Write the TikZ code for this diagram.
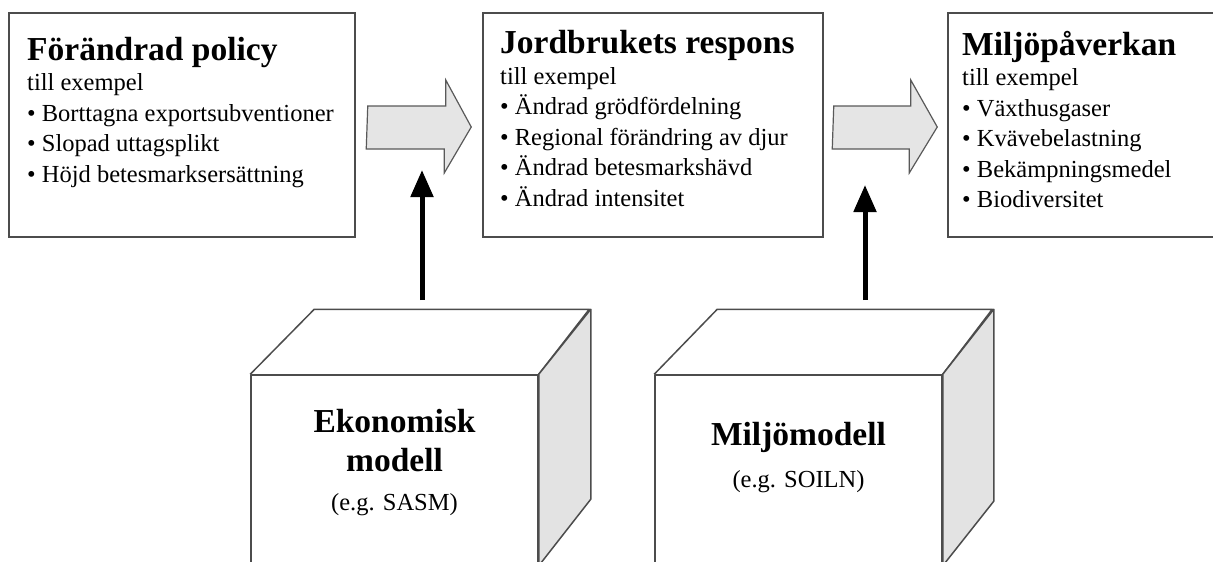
\documentclass[tikz,border=0pt]{standalone}
\usepackage{fontspec}
\setmainfont{Liberation Serif}
\usetikzlibrary{positioning,arrows.meta}

\tikzset{
  panel/.style={draw=black!70, line width=1.5pt, inner sep=0pt},
  paneltext/.style={anchor=north west, align=left, inner sep=0pt, font=\fontsize{24.5}{30.5}\selectfont},
  modeltext/.style={anchor=north, align=center, inner sep=0pt},
  bigarrow/.style={draw=black!65, line width=1.2pt, fill=black!10, line join=miter},
  upflow/.style={line width=5pt, -{Triangle[width=22pt,length=27pt]}},
  cubeline/.style={draw=black!70, line width=1.5pt, line join=round},
}
\newcommand{\headline}[1]{{\fontsize{33.5}{30.5}\selectfont\bfseries #1}}

\begin{document}
\begin{tikzpicture}[x=1pt, y=-1pt]
\useasboundingbox (0,0) rectangle (1213,562);
\clip (0,0) rectangle (1213,562);

% ---- the three panels
\node[panel, minimum width=346pt, minimum height=224pt] (policy) at (182,125) {};
\node[panel, minimum width=340pt, minimum height=224pt] (respons) at (653,125) {};
\node[panel, minimum width=268pt, minimum height=224pt] (miljo) at (1082,125) {};

\node[paneltext] (policytxt) at (27,37) {\headline{Förändrad policy}\\
  till exempel\\
  \textbullet\ Borttagna exportsubventioner\\
  \textbullet\ Slopad uttagsplikt\\
  \textbullet\ Höjd betesmarksersättning};
\node[paneltext] (responstxt) at (500,30.5) {\headline{Jordbrukets respons}\\
  till exempel\\
  \textbullet\ Ändrad grödfördelning\\
  \textbullet\ Regional förändring av djur\\
  \textbullet\ Ändrad betesmarkshävd\\
  \textbullet\ Ändrad intensitet};
\node[paneltext] (miljotxt) at (962,31) {\headline{Miljöpåverkan}\\
  till exempel\\
  \textbullet\ Växthusgaser\\
  \textbullet\ Kvävebelastning\\
  \textbullet\ Bekämpningsmedel\\
  \textbullet\ Biodiversitet};

% ---- block arrows between the panels
\draw[bigarrow] ([shift={(12,-19)}]policy.east) -- ++(78,0) -- ++(0,-26)
  -- ([shift={(-11,2)}]respons.west) -- ++(-27,46) -- ++(0,-24) -- ++(-78,0) -- cycle;
\draw[bigarrow] ([shift={(10,-19)}]respons.east) -- ++(77,0) -- ++(0,-26)
  -- ([shift={(-10,2)}]miljo.west) -- ++(-28,46) -- ++(0,-24) -- ++(-77,0) -- cycle;

% ---- the two model cubes
\node[cubeline, minimum width=287pt, minimum height=190pt, inner sep=0pt] (eko) at (394.5,470) {};
\draw[cubeline] (eko.north west) -- ++(64,-65) -- ++(275,0) -- (eko.north east);
\draw[cubeline, fill=black!11] (eko.north east) -- ++(52,-65) -- ++(0,190) -- (eko.south east) -- cycle;
\node[modeltext, font=\fontsize{24.5}{39}\selectfont] (ekotxt) at (394.5,409.5)
  {\headline{Ekonomisk}\\ \headline{modell}\\ (e.g. SASM)};

\node[cubeline, minimum width=287pt, minimum height=190pt, inner sep=0pt] (miljomod) at (798.5,470) {};
\draw[cubeline] (miljomod.north west) -- ++(63,-65) -- ++(275,0) -- (miljomod.north east);
\draw[cubeline, fill=black!11] (miljomod.north east) -- ++(51,-65) -- ++(0,192) -- (miljomod.south east) -- cycle;
\node[modeltext, font=\fontsize{24.5}{42}\selectfont] (miljomodtxt) at (798.5,422.5)
  {\headline{Miljömodell}\\ (e.g. SOILN)};

% ---- model output arrows
\coordinate (ekoout) at (422,300);
\coordinate (ekoin) at (422,170);
\coordinate (miljoout) at (865,300);
\coordinate (miljoin) at (865,185);
\draw[upflow] (ekoout) -- (ekoin);
\draw[upflow] (miljoout) -- (miljoin);
\end{tikzpicture}
\end{document}
